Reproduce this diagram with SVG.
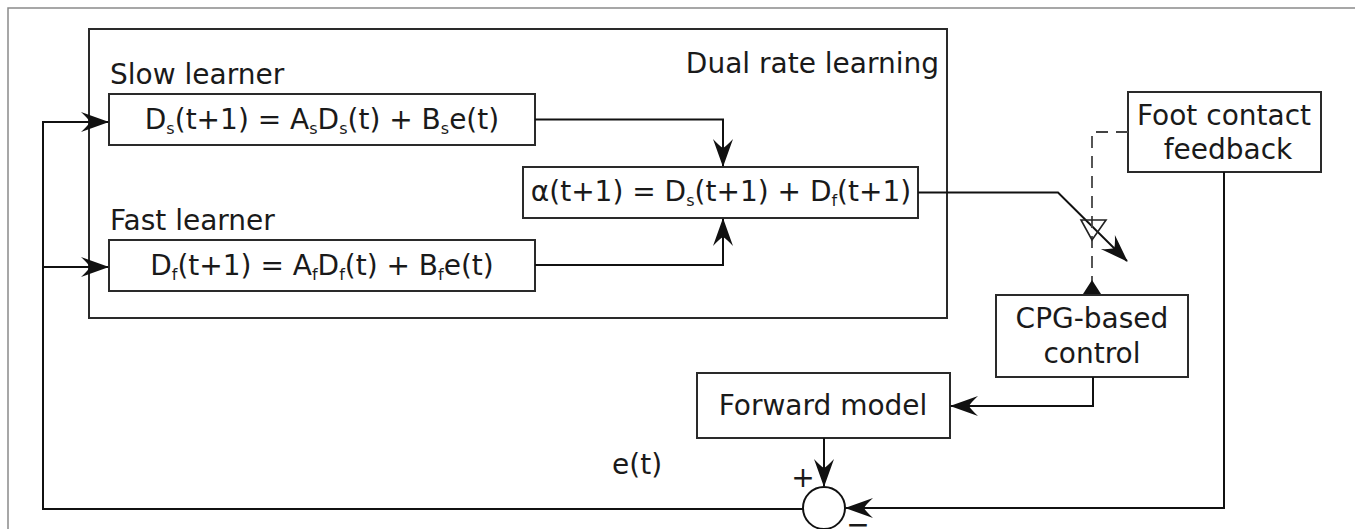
<svg xmlns="http://www.w3.org/2000/svg" width="1355" height="529" viewBox="0 0 1355 529">
  <style>
    .box { fill: #ffffff; stroke: #2a2a2a; stroke-width: 2; }
    .wire { fill: none; stroke: #111111; stroke-width: 2; }
    .dash { fill: none; stroke: #444444; stroke-width: 1.8; stroke-dasharray: 12 8; }
    .frame { fill: none; stroke: #8a8a8a; stroke-width: 1.5; }
    text { font-family: "DejaVu Sans", "Liberation Sans", sans-serif; font-size: 28px; fill: #1a1a1a; }
    .mid { text-anchor: middle; }
    .sub { font-size: 16px; }
  </style>
  <defs>
    <marker id="arrow" markerUnits="userSpaceOnUse" viewBox="-30 -12 34 24" markerWidth="34" markerHeight="24" refX="0" refY="0" orient="auto">
      <path d="M1,0 L-27,-10 Q-20,-3.5 -18,0 Q-20,3.5 -27,10 Z" fill="#111111"/>
    </marker>
  </defs>

  <rect width="1355" height="529" fill="#ffffff"/>
  <!-- outer frame -->
  <path class="frame" d="M8,529 V8 H1355"/>

  <!-- dual rate learning container -->
  <g id="dual-rate">
    <rect class="box" x="89" y="29" width="858" height="289"/>
    <text x="939" y="73" text-anchor="end">Dual rate learning</text>
  </g>

  <g id="slow-learner">
    <text x="110" y="84">Slow learner</text>
    <rect class="box" x="109" y="94" width="426" height="51"/>
    <text class="mid" x="322" y="129">D<tspan class="sub" dy="5">s</tspan><tspan dy="-5">(t+1) = A</tspan><tspan class="sub" dy="5">s</tspan><tspan dy="-5">D</tspan><tspan class="sub" dy="5">s</tspan><tspan dy="-5">(t) + B</tspan><tspan class="sub" dy="5">s</tspan><tspan dy="-5">e(t)</tspan></text>
  </g>

  <g id="fast-learner">
    <text x="110" y="230">Fast learner</text>
    <rect class="box" x="109" y="240" width="426" height="51"/>
    <text class="mid" x="322" y="275">D<tspan class="sub" dy="5">f</tspan><tspan dy="-5">(t+1) = A</tspan><tspan class="sub" dy="5">f</tspan><tspan dy="-5">D</tspan><tspan class="sub" dy="5">f</tspan><tspan dy="-5">(t) + B</tspan><tspan class="sub" dy="5">f</tspan><tspan dy="-5">e(t)</tspan></text>
  </g>

  <g id="alpha-sum">
    <rect class="box" x="523" y="167" width="395" height="51"/>
    <text class="mid" x="721" y="201">α(t+1) = D<tspan class="sub" dy="5">s</tspan><tspan dy="-5">(t+1) + D</tspan><tspan class="sub" dy="5">f</tspan><tspan dy="-5">(t+1)</tspan></text>
  </g>

  <g id="foot-contact">
    <rect class="box" x="1128" y="92" width="193" height="80"/>
    <text class="mid" x="1224" y="125">Foot contact</text>
    <text class="mid" x="1228" y="159">feedback</text>
  </g>

  <g id="cpg-control">
    <rect class="box" x="996" y="295" width="192" height="82"/>
    <text class="mid" x="1092" y="328">CPG-based</text>
    <text class="mid" x="1092" y="363">control</text>
  </g>

  <g id="forward-model">
    <rect class="box" x="697" y="373" width="253" height="65"/>
    <text class="mid" x="823" y="415">Forward model</text>
  </g>

  <g id="summing-junction">
    <circle cx="824" cy="508" r="21" fill="#ffffff" stroke="#111111" stroke-width="2"/>
    <text class="mid" x="803" y="487">+</text>
    <text class="mid" x="858" y="534">−</text>
  </g>

  <g id="connectors">
    <!-- learners into the sum -->
    <path class="wire" d="M535,119.5 H723 V166" marker-end="url(#arrow)"/>
    <path class="wire" d="M535,265 H723 V219" marker-end="url(#arrow)"/>
    <!-- alpha towards the CPG -->
    <path class="wire" d="M918,192.5 H1058 L1127,261" marker-end="url(#arrow)"/>
    <!-- foot contact modulation (dashed) -->
    <path class="dash" d="M1128,132 H1092 V294"/>
    <polygon points="1081,220 1106,220 1092,240" fill="none" stroke="#222222" stroke-width="1.6"/>
    <polygon points="1083,294 1101,294 1092,280" fill="#111111"/>
    <!-- CPG to forward model -->
    <path class="wire" d="M1093,377 V406 H951" marker-end="url(#arrow)"/>
    <!-- forward model to junction -->
    <path class="wire" d="M824,438 V486" marker-end="url(#arrow)"/>
    <!-- foot contact to junction -->
    <path class="wire" d="M1224,172 V508 H846" marker-end="url(#arrow)"/>
    <!-- error feedback loop -->
    <path class="wire" d="M803,509 H43 V122 H108" marker-end="url(#arrow)"/>
    <path class="wire" d="M43,267 H108" marker-end="url(#arrow)"/>
    <text x="612" y="474">e(t)</text>
  </g>
</svg>
